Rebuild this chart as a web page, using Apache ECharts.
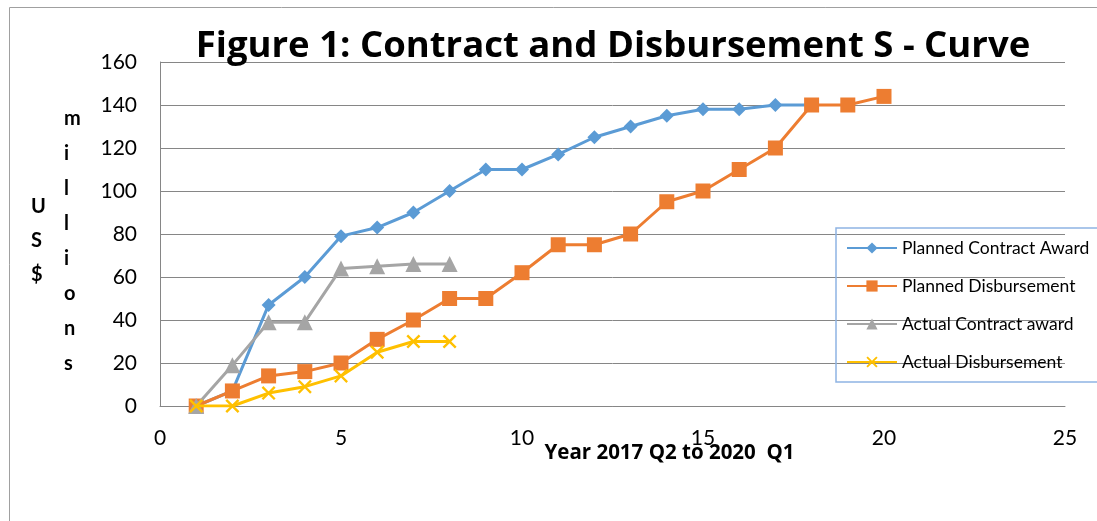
<!DOCTYPE html>
<html>
<head>
<meta charset="utf-8">
<script src="https://cdn.jsdelivr.net/npm/echarts@6/dist/echarts.min.js"></script>
<style>
html,body{margin:0;padding:0;background:#fff;}
#chart{width:1097px;height:521px;}
</style>
</head>
<body>
<div id="chart"></div>
<script>
// ---- data ----
var quarters = [1,2,3,4,5,6,7,8,9,10,11,12,13,14,15,16,17,18,19,20];
var plannedContract = [0,7,47,60,79,83,90,100,110,110,117,125,130,135,138,138,140,140];
var plannedDisb = [0,7,14,16,20,31,40,50,50,62,75,75,80,95,100,110,120,140,140,144];
var actualContract = [0,19,39,39,64,65,66,66];
var actualDisb = [0,0,6,9,14,25,30,30];
var seriesNames = ['Planned Contract Award','Planned Disbursement','Actual Contract award','Actual Disbursement'];
var yTicks = [0,20,40,60,80,100,120,140,160];
var xTicks = [0,5,10,15,20,25];

function pairs(vals){ return vals.map(function(v,i){ return [quarters[i], v]; }); }

var FONT = 'Lato, "Liberation Sans", sans-serif';
var BOLDFONT = '"Open Sans", Lato, sans-serif';
var xPath = 'path://M0,1.2 L1.2,0 L5,3.8 L8.8,0 L10,1.2 L6.2,5 L10,8.8 L8.8,10 L5,6.2 L1.2,10 L0,8.8 L3.8,5 Z';

var chart = echarts.init(document.getElementById('chart'));
chart.setOption({
  animation: false,
  backgroundColor: '#fff',
  textStyle: {fontFamily: FONT},
  title: {
    text: 'Figure 1: Contract and Disbursement S - Curve',
    left: 608, top: 23, textAlign: 'center',
    textStyle: {fontSize: 36.5, fontWeight: 'bold', color: '#000', fontFamily: BOLDFONT}
  },
  grid: {left: 160, right: 32, top: 62, bottom: 115},
  legend: {
    orient: 'vertical', left: 836, top: 228,
    padding: [11, 20, 11, 10],
    itemWidth: 50, itemHeight: 14, itemGap: 20,
    borderColor: '#8EB4E3', borderWidth: 1.5,
    backgroundColor: 'transparent',
    textStyle: {fontSize: 17.5, color: '#000', fontFamily: FONT},
    data: seriesNames
  },
  xAxis: {
    type: 'value', min: xTicks[0], max: xTicks[xTicks.length-1], interval: 5,
    name: 'Year 2017 Q2 to 2020  Q1', nameLocation: 'middle', nameGap: 37, nameMoveOverlap: false,
    nameTextStyle: {fontSize: 20.5, fontWeight: 'bold', color: '#000', padding: [0, 0, 0, 114], fontFamily: BOLDFONT},
    axisLine: {show: true, lineStyle: {color: '#868686', width: 1}},
    axisTick: {show: false},
    axisLabel: {fontSize: 21, color: '#000', margin: 22, fontFamily: FONT},
    splitLine: {show: false}
  },
  yAxis: {
    type: 'value', min: yTicks[0], max: yTicks[yTicks.length-1], interval: 20,
    axisLine: {show: true, lineStyle: {color: '#868686', width: 1}},
    axisTick: {show: false},
    axisLabel: {fontSize: 21, color: '#000', margin: 23, fontFamily: FONT},
    splitLine: {show: true, lineStyle: {color: '#868686', width: 1}}
  },
  graphic: [
    {type: 'rect', silent: true, z: -10, shape: {x: 9.5, y: 7.5, width: 1200, height: 600},
     style: {fill: 'none', stroke: '#A0A0A0', lineWidth: 1}},
    {type: 'text', left: 31, top: 190, style: {text: 'U\nS\n$', font: 'bold 20px ' + FONT, fill: '#000', lineHeight: 34, align: 'center'}},
    {type: 'text', left: 64, top: 101, style: {text: 'm\ni\nl\nl\ni\no\nn\ns', font: 'bold 20px ' + FONT, fill: '#000', lineHeight: 35, align: 'center'}}
  ],
  series: [
    {name: seriesNames[0], type: 'line', data: pairs(plannedContract), symbol: 'diamond', symbolSize: 14,
     lineStyle: {width: 3, color: '#5B9BD5'}, itemStyle: {color: '#5B9BD5'}, z: 2},
    {name: seriesNames[1], type: 'line', data: pairs(plannedDisb), symbol: 'rect', symbolSize: 15,
     lineStyle: {width: 3, color: '#ED7D31'}, itemStyle: {color: '#ED7D31'}, z: 3},
    {name: seriesNames[2], type: 'line', data: pairs(actualContract), symbol: 'triangle', symbolSize: 16,
     lineStyle: {width: 3, color: '#A5A5A5'}, itemStyle: {color: '#A5A5A5'}, z: 4},
    {name: seriesNames[3], type: 'line', data: pairs(actualDisb), symbol: xPath, symbolSize: 14,
     lineStyle: {width: 3, color: '#FFC000'}, itemStyle: {color: '#FFC000'}, z: 5}
  ]
});
</script>
</body>
</html>
